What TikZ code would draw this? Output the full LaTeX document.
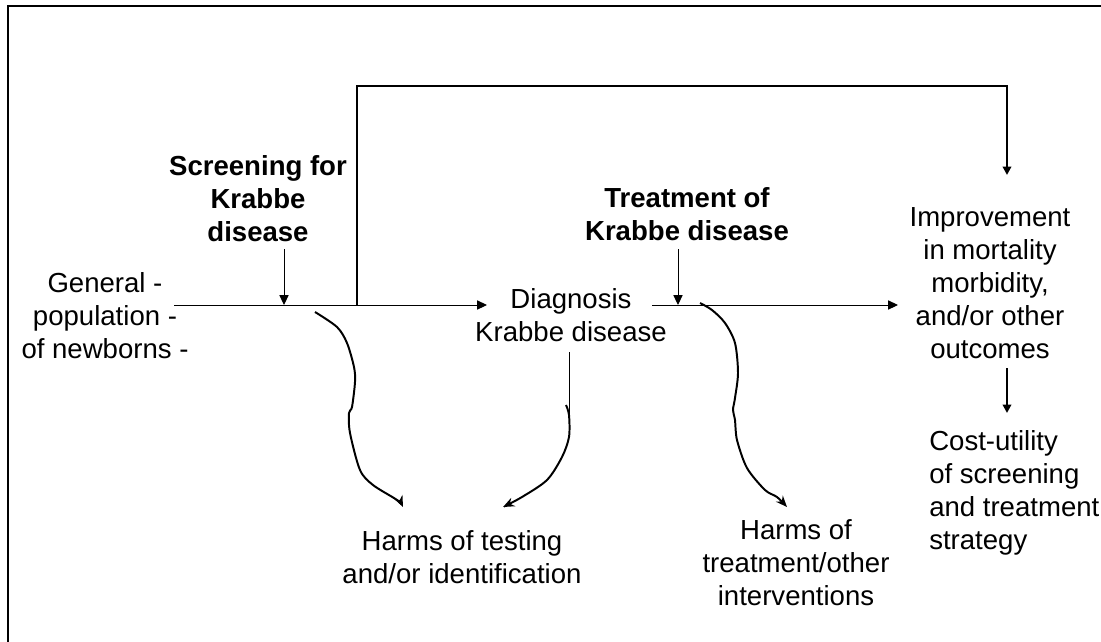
\documentclass[tikz,border=0pt]{standalone}
\usepackage{fontspec}
\setmainfont{Liberation Sans}
\usetikzlibrary{arrows.meta}

\begin{document}
\begin{tikzpicture}[x=0.025cm, y=-0.025cm]
\tikzset{txt/.style = {align=center, inner sep=0pt, font=\fontsize{19.6}{23.5}\selectfont}}
\tikzset{bold/.style = {txt, font=\fontsize{19.6}{23.5}\selectfont\bfseries}}
\tikzset{edge/.style = {-{Triangle[length=7pt, width=6.5pt]}, line width=.7 pt}}
\tikzset{heavy/.style = {-{Triangle[length=6pt, width=6pt]}, line width=1.6 pt}}
\tikzset{harm/.style = {-{Stealth[length=8pt, width=6.5pt]}, line width=1.4 pt}}

\path[use as bounding box, clip] (0,0) rectangle (1101,641);
\draw[line width=1.8pt] (8,6) rectangle (1115,655);

% texts
\node[txt] (gen) at (105,316) {General -\\population -\\of newborns -};
\node[bold] (scr) at (258,199) {Screening for\\Krabbe\\disease};
\node[txt] (diag) at (571,315) {Diagnosis\\Krabbe disease};
\node[bold] (treat) at (687,214) {Treatment of\\Krabbe disease};
\node[txt] (impr) at (990,283) {Improvement\\in mortality\\morbidity,\\and/or other\\outcomes};
\node[txt, align=left, anchor=west] (cost) at (929,493) {Cost-utility\\of screening\\and treatment\\strategy};
\node[txt] (htest) at (462,557) {Harms of testing\\and/or identification};
\node[txt] (htreat) at (796,563) {Harms of\\treatment/other\\interventions};

% points on the lines
\coordinate (start) at (174,305);
\coordinate (dgin) at (487,305);
\coordinate (dgout) at (652,305);
\coordinate (imin) at (898,305);
\coordinate (sc) at (284,305);
\coordinate (sctop) at (284,249);
\coordinate (tr) at (678,305);
\coordinate (trtop) at (678,249);
\coordinate (fb) at (357,305);
\coordinate (fbtop) at (1007,86);
\coordinate (fbend) at (1007,175);
\coordinate (cotop) at (1007,368);
\coordinate (coend) at (1007,413);
\coordinate (dgtop) at (569,352);
\coordinate (dgbot) at (569,437);

\draw[edge] (start) -- (dgin);
\draw[edge] (dgout) -- (imin);
\draw[edge] (sctop) -- (sc);
\draw[edge] (trtop) -- (tr);
\draw[heavy] (fb) |- (fbtop) -- (fbend);
\draw[heavy] (cotop) -- (coend);
\draw[line width=.7pt] (dgtop) -- (dgbot);

% wavy arrows to the harms
\coordinate (w1) at (315,312);
\coordinate (w1end) at (403,507);
\draw[harm] plot[smooth, tension=.5] coordinates {(w1) (337,327) (347,343) (354,367) (355,382) (352,407) (349,413) (350,433) (360,470) (373,485) (397,500) (w1end)};

\coordinate (w2) at (566,405);
\coordinate (w2end) at (503,507);
\draw[harm] plot[smooth, tension=.5] coordinates {(w2) (569,415) (569,437) (562,457) (547,480) (522,497) (w2end)};

\coordinate (w3) at (700,303);
\coordinate (w3end) at (787,507);
\draw[harm] plot[smooth, tension=.5] coordinates {(w3) (712,310) (725,323) (735,343) (738,373) (735,398) (733,410) (735,420) (737,440) (747,468) (765,490) (777,497) (w3end)};

\end{tikzpicture}
\end{document}
